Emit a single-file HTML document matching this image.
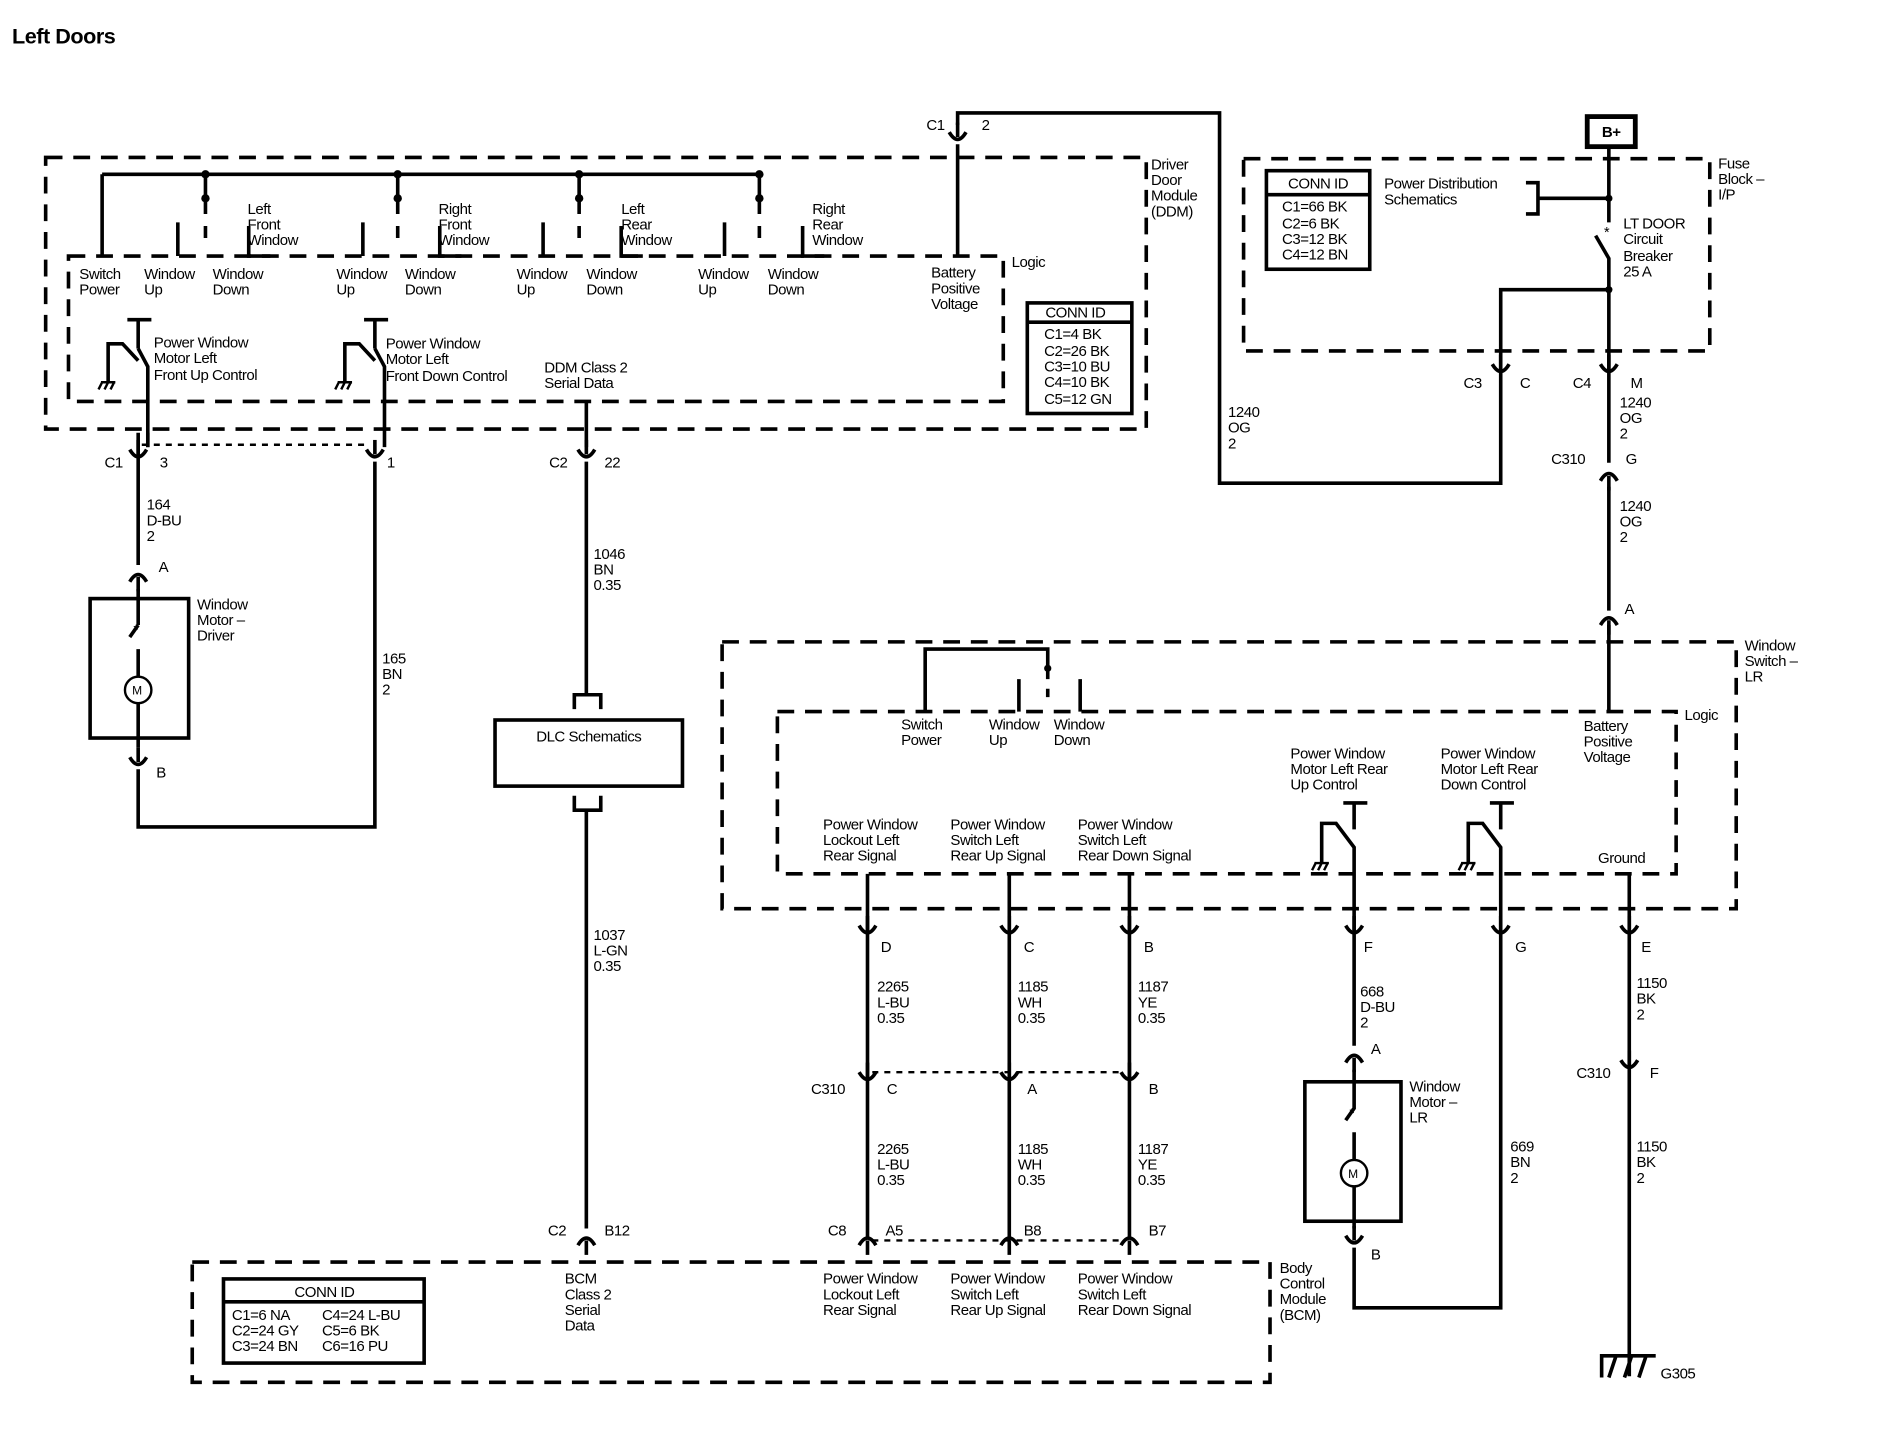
<!DOCTYPE html>
<html><head><meta charset="utf-8"><style>
html,body{margin:0;padding:0;background:#fff;}
svg{display:block;}
text{font-family:"Liberation Sans",sans-serif;font-size:12.5px;fill:#000;letter-spacing:-0.4px;}
.w{stroke:#000;stroke-width:3;fill:none;}
.d{stroke:#000;stroke-width:3;fill:none;stroke-dasharray:14 9;}
.dt{stroke:#000;stroke-width:2;fill:none;stroke-dasharray:5 5;}
.t{stroke:#000;stroke-width:2;fill:none;}
</style></head><body>
<svg width="1884" height="1440" viewBox="0 0 1568 1198" preserveAspectRatio="none" xmlns="http://www.w3.org/2000/svg">
<defs>
<g id="cu"><path class="w" d="M0,-10 V2" stroke-width="5"/><path class="w" d="M-7,-2 Q0,10 7,-2"/></g>
<g id="cd"><path class="w" d="M0,10 V-2" stroke-width="5"/><path class="w" d="M-7,2 Q0,-10 7,2"/></g>
<g id="gnd"><path class="t" d="M-6,0 H6 M-5,0 L-8,6 M0,0 L-3,6 M5,0 L2,6"/></g>
</defs>
<text x="10" y="36" style="font-size:18px;font-weight:bold">Left Doors</text>

<!-- DDM -->
<rect class="d" x="38" y="131" width="916" height="226"/>
<text x="958" y="141">Driver</text><text x="958" y="154">Door</text><text x="958" y="167">Module</text><text x="958" y="180">(DDM)</text>
<rect class="d" x="57" y="213" width="778" height="121"/>
<text x="842" y="222">Logic</text>
<path class="w" d="M85,145 H632 M85,145 V213"/>
<g fill="#000"><circle cx="171" cy="145" r="3.5"/><circle cx="331" cy="145" r="3.5"/><circle cx="482" cy="145" r="3.5"/><circle cx="632" cy="145" r="3.5"/>
<circle cx="171" cy="165" r="3.5"/><circle cx="331" cy="165" r="3.5"/><circle cx="482" cy="165" r="3.5"/><circle cx="632" cy="165" r="3.5"/></g>
<path class="w" d="M171,145 V178 M171,188 V198 M331,145 V178 M331,188 V198 M482,145 V178 M482,188 V198 M632,145 V178 M632,188 V198"/>
<path class="w" d="M148,185 V213 M302,185 V213 M452,185 V213 M603,185 V213"/>
<path class="w" d="M207,188 V213 H225 M366,188 V213 H384 M517,188 V213 H535 M668,188 V213 H686"/>
<text x="206" y="178">Left</text><text x="206" y="191">Front</text><text x="206" y="204">Window</text>
<text x="365" y="178">Right</text><text x="365" y="191">Front</text><text x="365" y="204">Window</text>
<text x="517" y="178">Left</text><text x="517" y="191">Rear</text><text x="517" y="204">Window</text>
<text x="676" y="178">Right</text><text x="676" y="191">Rear</text><text x="676" y="204">Window</text>
<text x="66" y="232">Switch</text><text x="66" y="245">Power</text>
<text x="120" y="232">Window</text><text x="120" y="245">Up</text>
<text x="177" y="232">Window</text><text x="177" y="245">Down</text>
<text x="280" y="232">Window</text><text x="280" y="245">Up</text>
<text x="337" y="232">Window</text><text x="337" y="245">Down</text>
<text x="430" y="232">Window</text><text x="430" y="245">Up</text>
<text x="488" y="232">Window</text><text x="488" y="245">Down</text>
<text x="581" y="232">Window</text><text x="581" y="245">Up</text>
<text x="639" y="232">Window</text><text x="639" y="245">Down</text>
<text x="775" y="231">Battery</text><text x="775" y="244">Positive</text><text x="775" y="257">Voltage</text>
<!-- relays DDM -->
<path class="w" d="M106,266 H126 M115,266 V290 M115,290 L123,305 V372 M90,318 V286 H102 L115,300"/>
<use href="#gnd" x="90" y="318"/>
<text x="128" y="289">Power Window</text><text x="128" y="302">Motor Left</text><text x="128" y="316">Front Up Control</text>
<path class="w" d="M303,266 H323 M312,266 V290 M312,290 L320,305 V372 M287,318 V286 H299 L312,300"/>
<use href="#gnd" x="287" y="318"/>
<text x="321" y="290">Power Window</text><text x="321" y="303">Motor Left</text><text x="321" y="317">Front Down Control</text>
<text x="453" y="310">DDM Class 2</text><text x="453" y="323">Serial Data</text>
<rect x="855" y="252" width="87" height="92" fill="none" stroke="#000" stroke-width="3"/>
<path class="w" d="M855,268 H942"/>
<text x="870" y="264">CONN ID</text>
<text x="869" y="282">C1=4 BK</text><text x="869" y="296">C2=26 BK</text><text x="869" y="309">C3=10 BU</text><text x="869" y="322">C4=10 BK</text><text x="869" y="336">C5=12 GN</text>
<!-- battery wire top -->
<path class="w" d="M797,213 V120 M797,104 V94 H1015 V402 H1249 V305"/>
<use href="#cu" x="797" y="112"/>
<text x="771" y="108">C1</text><text x="817" y="108">2</text>
<text x="1022" y="347">1240</text><text x="1022" y="360">OG</text><text x="1022" y="373">2</text>

<!-- driver motor -->
<path class="w" d="M123,360 V372"/>
<path class="w" d="M115,360 V470 M115,490 V520"/>
<path class="dt" d="M118,370 H305"/>
<use href="#cu" x="115" y="376"/><use href="#cu" x="312" y="376"/>
<text x="87" y="389">C1</text><text x="133" y="389">3</text><text x="322" y="389">1</text>
<text x="122" y="424">164</text><text x="122" y="437">D-BU</text><text x="122" y="450">2</text>
<use href="#cd" x="115" y="482"/><text x="132" y="476">A</text>
<rect x="75" y="498" width="82" height="116" fill="none" stroke="#000" stroke-width="3"/>
<path class="w" d="M115,520 L108,530 M115,540 V563 M115,585 V622"/>
<text x="111" y="528" style="font-size:12px">*</text>
<circle cx="115" cy="574" r="11" fill="none" stroke="#000" stroke-width="2"/><text x="110" y="578" style="font-size:10px">M</text>
<use href="#cu" x="115" y="632"/><text x="130" y="647">B</text>
<path class="w" d="M115,640 V688 H312 V384"/>
<text x="164" y="507">Window</text><text x="164" y="520">Motor –</text><text x="164" y="533">Driver</text>
<text x="318" y="552">165</text><text x="318" y="565">BN</text><text x="318" y="578">2</text>

<!-- DLC -->
<path class="w" d="M488,334 V372 M488,384 V578 H500 V590 M488,578 H478 V590"/>
<use href="#cu" x="488" y="376"/>
<text x="457" y="389">C2</text><text x="503" y="389">22</text>
<text x="494" y="465">1046</text><text x="494" y="478">BN</text><text x="494" y="491">0.35</text>
<rect x="412" y="599" width="156" height="55" fill="none" stroke="#000" stroke-width="3"/>
<text x="490" y="617" text-anchor="middle">DLC Schematics</text>
<path class="w" d="M478,662 V674 H500 V662 M488,674 V1022"/>
<text x="494" y="782">1037</text><text x="494" y="795">L-GN</text><text x="494" y="808">0.35</text>
<use href="#cd" x="488" y="1034"/>
<text x="456" y="1028">C2</text><text x="503" y="1028">B12</text>

<!-- BCM -->
<rect class="d" x="160" y="1050" width="897" height="100"/>
<text x="1065" y="1059">Body</text><text x="1065" y="1072">Control</text><text x="1065" y="1085">Module</text><text x="1065" y="1098">(BCM)</text>
<rect x="186" y="1064" width="167" height="70" fill="none" stroke="#000" stroke-width="3"/>
<path class="w" d="M186,1083 H353"/>
<text x="270" y="1079" text-anchor="middle">CONN ID</text>
<text x="193" y="1098">C1=6 NA</text><text x="268" y="1098">C4=24 L-BU</text>
<text x="193" y="1111">C2=24 GY</text><text x="268" y="1111">C5=6 BK</text>
<text x="193" y="1124">C3=24 BN</text><text x="268" y="1124">C6=16 PU</text>
<text x="470" y="1068">BCM</text><text x="470" y="1081">Class 2</text><text x="470" y="1094">Serial</text><text x="470" y="1107">Data</text>
<text x="685" y="1068">Power Window</text><text x="685" y="1081">Lockout Left</text><text x="685" y="1094">Rear Signal</text>
<text x="791" y="1068">Power Window</text><text x="791" y="1081">Switch Left</text><text x="791" y="1094">Rear Up Signal</text>
<text x="897" y="1068">Power Window</text><text x="897" y="1081">Switch Left</text><text x="897" y="1094">Rear Down Signal</text>

<!-- Fuse block -->
<rect class="d" x="1035" y="132" width="388" height="160"/>
<text x="1430" y="140">Fuse</text><text x="1430" y="153">Block –</text><text x="1430" y="166">I/P</text>
<rect x="1054" y="142" width="86" height="82" fill="none" stroke="#000" stroke-width="3"/>
<path class="w" d="M1054,162 H1140"/>
<text x="1097" y="157" text-anchor="middle">CONN ID</text>
<text x="1067" y="176">C1=66 BK</text><text x="1067" y="190">C2=6 BK</text><text x="1067" y="203">C3=12 BK</text><text x="1067" y="216">C4=12 BN</text>
<text x="1152" y="157">Power Distribution</text><text x="1152" y="170">Schematics</text>
<path class="w" d="M1270,152 H1280 V178 H1270 M1280,165 H1339"/>
<rect x="1321" y="97" width="40" height="25" fill="none" stroke="#000" stroke-width="4"/>
<text x="1341" y="114" text-anchor="middle" style="font-weight:bold">B+</text>
<path class="w" d="M1339,122 V185 M1328,196 L1339,215 V305 M1339,241 H1249 V305"/>
<text x="1335" y="197" style="font-size:12px">*</text>
<circle cx="1339" cy="165" r="3" fill="#000"/><circle cx="1339" cy="241" r="3" fill="#000"/>
<text x="1351" y="190">LT DOOR</text><text x="1351" y="203">Circuit</text><text x="1351" y="217">Breaker</text><text x="1351" y="230">25 A</text>
<use href="#cu" x="1249" y="305"/><use href="#cu" x="1339" y="305"/>
<text x="1218" y="323">C3</text><text x="1265" y="323">C</text><text x="1309" y="323">C4</text><text x="1357" y="323">M</text>
<path class="w" d="M1339,305 V385 M1339,405 V508"/>
<text x="1348" y="339">1240</text><text x="1348" y="352">OG</text><text x="1348" y="365">2</text>
<use href="#cd" x="1339" y="398"/>
<text x="1291" y="386">C310</text><text x="1353" y="386">G</text>
<text x="1348" y="425">1240</text><text x="1348" y="438">OG</text><text x="1348" y="451">2</text>
<use href="#cd" x="1339" y="518"/><text x="1352" y="511">A</text>

<!-- Window switch LR -->
<rect class="d" x="601" y="534" width="844" height="222"/>
<text x="1452" y="541">Window</text><text x="1452" y="554">Switch –</text><text x="1452" y="567">LR</text>
<rect class="d" x="647" y="592" width="748" height="135"/>
<text x="1402" y="599">Logic</text>
<path class="w" d="M1339,520 V592"/>
<text x="1318" y="608">Battery</text><text x="1318" y="621">Positive</text><text x="1318" y="634">Voltage</text>
<path class="w" d="M770,592 V540 H872 V565 M872,573 V580 M848,565 V592 M899,565 V592"/>
<circle cx="872" cy="556" r="3" fill="#000"/>
<text x="750" y="607">Switch</text><text x="750" y="620">Power</text>
<text x="823" y="607">Window</text><text x="823" y="620">Up</text>
<text x="877" y="607">Window</text><text x="877" y="620">Down</text>
<text x="1074" y="631">Power Window</text><text x="1074" y="644">Motor Left Rear</text><text x="1074" y="657">Up Control</text>
<text x="1199" y="631">Power Window</text><text x="1199" y="644">Motor Left Rear</text><text x="1199" y="657">Down Control</text>
<path class="w" d="M1118,668 H1138 M1127,668 V690 M1100,718 V685 H1112 L1127,705 V772"/>
<use href="#gnd" x="1100" y="718"/>
<path class="w" d="M1240,668 H1260 M1249,668 V690 M1222,718 V685 H1234 L1249,705 V772"/>
<use href="#gnd" x="1222" y="718"/>
<text x="685" y="690">Power Window</text><text x="685" y="703">Lockout Left</text><text x="685" y="716">Rear Signal</text>
<text x="791" y="690">Power Window</text><text x="791" y="703">Switch Left</text><text x="791" y="716">Rear Up Signal</text>
<text x="897" y="690">Power Window</text><text x="897" y="703">Switch Left</text><text x="897" y="716">Rear Down Signal</text>
<text x="1330" y="718">Ground</text>
<path class="w" d="M722,727 V1030 M840,727 V1030 M940,727 V1030 M1356,727 V1145 M1127,772 V870 M1249,772 V1088 H1127 V1038"/>
<use href="#cu" x="722" y="772"/><use href="#cu" x="840" y="772"/><use href="#cu" x="940" y="772"/>
<use href="#cu" x="1127" y="772"/><use href="#cu" x="1249" y="772"/><use href="#cu" x="1356" y="772"/>
<text x="733" y="792">D</text><text x="852" y="792">C</text><text x="952" y="792">B</text><text x="1135" y="792">F</text><text x="1261" y="792">G</text><text x="1366" y="792">E</text>
<text x="730" y="825">2265</text><text x="730" y="838">L-BU</text><text x="730" y="851">0.35</text>
<text x="847" y="825">1185</text><text x="847" y="838">WH</text><text x="847" y="851">0.35</text>
<text x="947" y="825">1187</text><text x="947" y="838">YE</text><text x="947" y="851">0.35</text>
<text x="1132" y="829">668</text><text x="1132" y="842">D-BU</text><text x="1132" y="855">2</text>
<text x="1362" y="822">1150</text><text x="1362" y="835">BK</text><text x="1362" y="848">2</text>
<path class="dt" d="M726,892 H936"/>
<use href="#cu" x="722" y="894"/><use href="#cu" x="840" y="894"/><use href="#cu" x="940" y="894"/><use href="#cu" x="1356" y="884"/>
<text x="675" y="910">C310</text><text x="738" y="910">C</text><text x="855" y="910">A</text><text x="956" y="910">B</text>
<text x="1312" y="897">C310</text><text x="1373" y="897">F</text>
<text x="730" y="960">2265</text><text x="730" y="973">L-BU</text><text x="730" y="986">0.35</text>
<text x="847" y="960">1185</text><text x="847" y="973">WH</text><text x="847" y="986">0.35</text>
<text x="947" y="960">1187</text><text x="947" y="973">YE</text><text x="947" y="986">0.35</text>
<text x="1257" y="958">669</text><text x="1257" y="971">BN</text><text x="1257" y="984">2</text>
<text x="1362" y="958">1150</text><text x="1362" y="971">BK</text><text x="1362" y="984">2</text>
<path class="dt" d="M726,1032 H936"/>
<use href="#cd" x="722" y="1034"/><use href="#cd" x="840" y="1034"/><use href="#cd" x="940" y="1034"/>
<text x="689" y="1028">C8</text><text x="737" y="1028">A5</text><text x="852" y="1028">B8</text><text x="956" y="1028">B7</text>
<!-- LR motor -->
<use href="#cd" x="1127" y="882"/><text x="1141" y="877">A</text>
<rect x="1086" y="900" width="80" height="116" fill="none" stroke="#000" stroke-width="3"/>
<path class="w" d="M1127,890 V922 L1120,932 M1127,942 V965 M1127,987 V1022"/>
<text x="1123" y="930" style="font-size:12px">*</text>
<circle cx="1127" cy="976" r="11" fill="none" stroke="#000" stroke-width="2"/><text x="1122" y="980" style="font-size:10px">M</text>
<use href="#cu" x="1127" y="1030"/><text x="1141" y="1048">B</text>
<text x="1173" y="908">Window</text><text x="1173" y="921">Motor –</text><text x="1173" y="934">LR</text>
<!-- ground -->
<path class="w" d="M1333,1146 V1128 H1378 M1345,1128 L1339,1146 M1358,1128 L1352,1146 M1370,1128 L1364,1146"/>
<text x="1382" y="1147">G305</text>
</svg>
</body></html>
